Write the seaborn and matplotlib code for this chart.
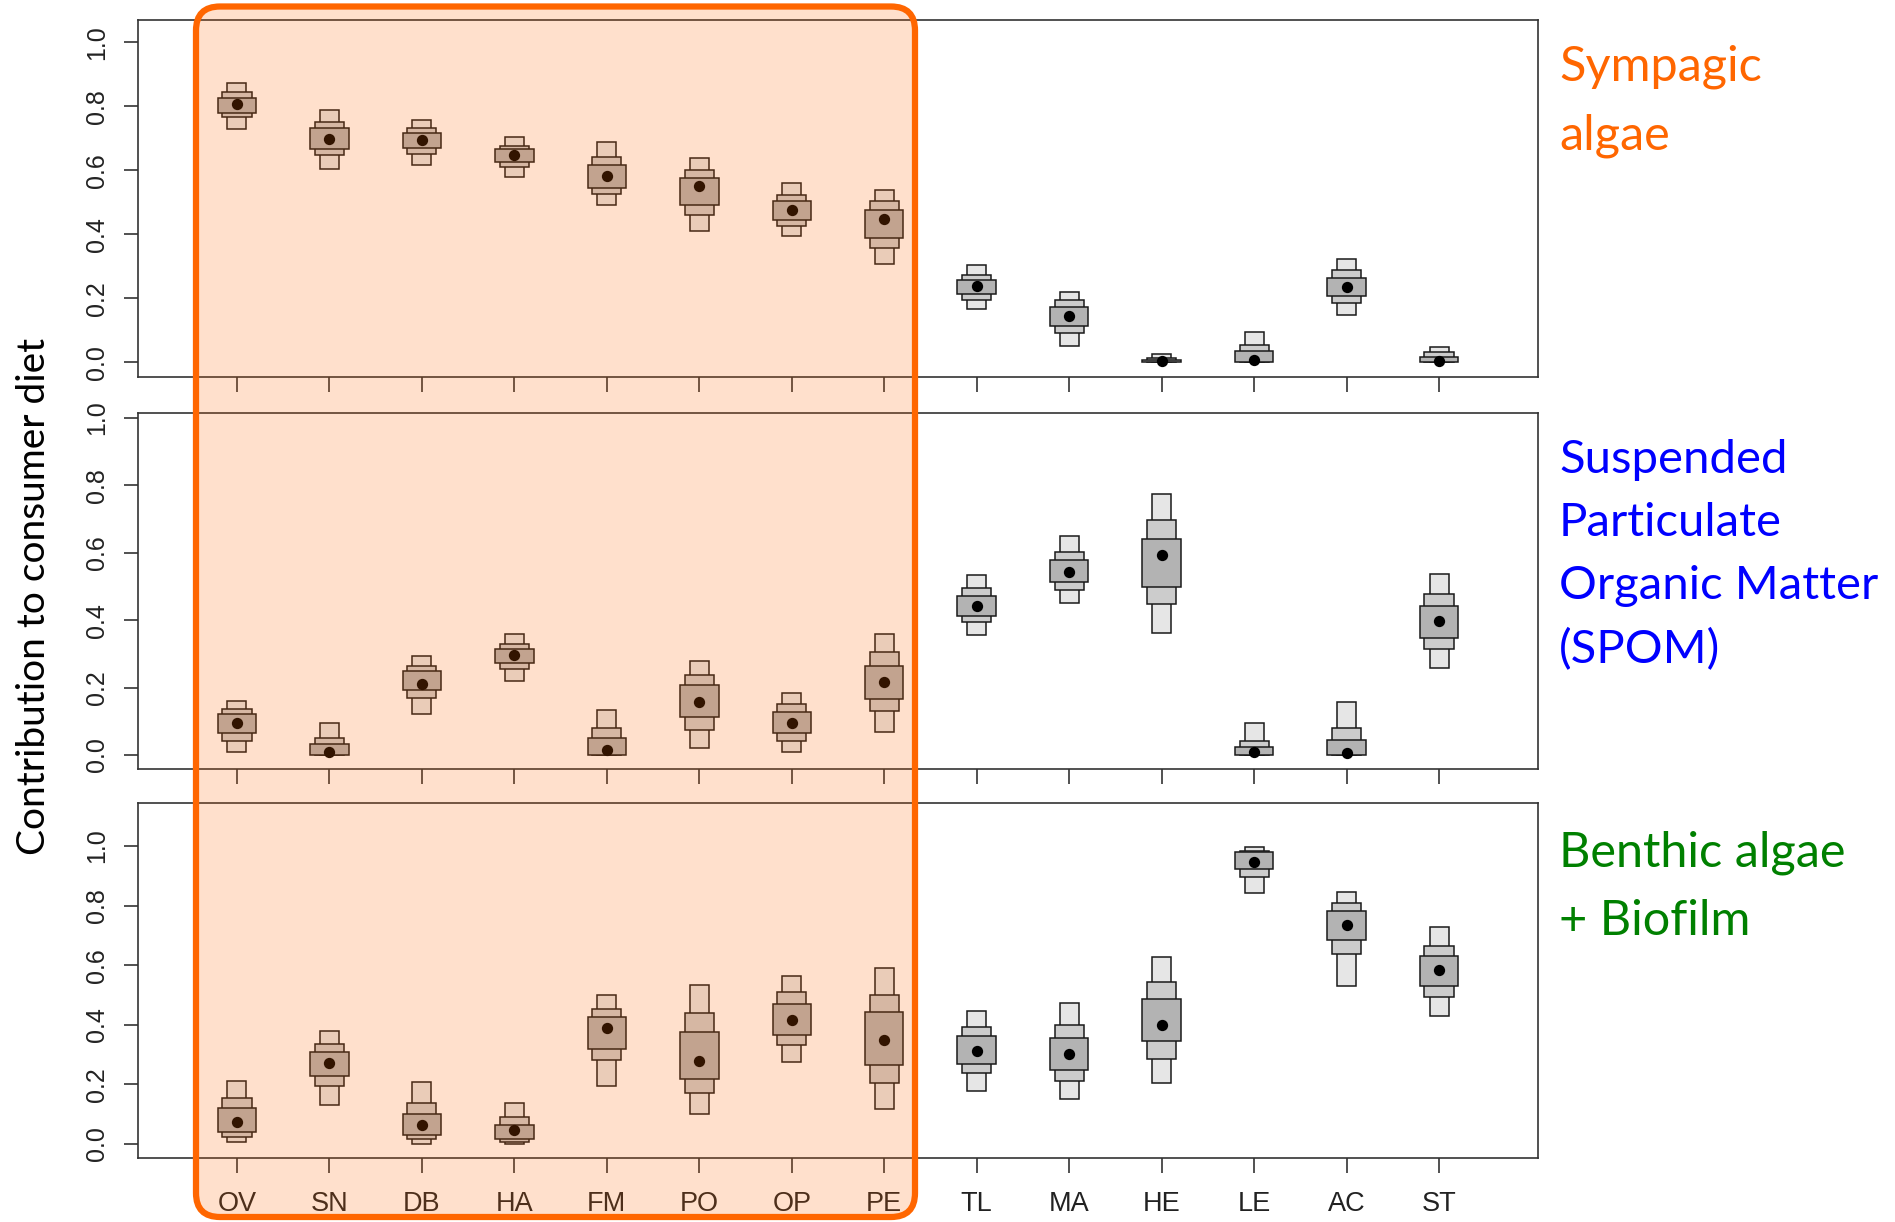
import matplotlib
matplotlib.use("Agg")
import matplotlib.pyplot as plt
import seaborn as sns
import numpy as np
import pandas as pd
from matplotlib.patches import FancyBboxPatch

# 消費者カテゴリ
cats = ["OV", "SN", "DB", "HA", "FM", "PO", "OP", "PE", "TL", "MA", "HE", "LE", "AC", "ST"]

# Sympagic algae
sym_med = [0.806, 0.697, 0.696, 0.647, 0.582, 0.552, 0.477, 0.448, 0.239, 0.145, 0.003, 0.008, 0.234, 0.004]
sym_lo50 = [0.780, 0.666, 0.671, 0.625, 0.546, 0.492, 0.445, 0.388, 0.213, 0.113, 0.000, 0.000, 0.206, 0.000]
sym_hi50 = [0.826, 0.732, 0.717, 0.666, 0.618, 0.577, 0.503, 0.477, 0.257, 0.174, 0.007, 0.035, 0.265, 0.017]
sym_lo75 = [0.766, 0.647, 0.652, 0.611, 0.527, 0.460, 0.426, 0.356, 0.194, 0.093, 0.000, 0.000, 0.186, 0.000]
sym_hi75 = [0.846, 0.751, 0.731, 0.677, 0.642, 0.601, 0.523, 0.503, 0.273, 0.194, 0.012, 0.054, 0.289, 0.031]
sym_lo95 = [0.730, 0.605, 0.616, 0.580, 0.491, 0.411, 0.396, 0.307, 0.167, 0.052, 0.000, 0.000, 0.147, 0.000]
sym_hi95 = [0.872, 0.788, 0.758, 0.703, 0.688, 0.638, 0.562, 0.538, 0.303, 0.219, 0.026, 0.095, 0.324, 0.049]

# SPOM
spm_med = [0.094, 0.010, 0.212, 0.296, 0.015, 0.156, 0.094, 0.217, 0.443, 0.542, 0.594, 0.010, 0.007, 0.397]
spm_lo50 = [0.065, 0.000, 0.193, 0.273, 0.000, 0.113, 0.064, 0.165, 0.414, 0.513, 0.500, 0.000, 0.000, 0.348]
spm_hi50 = [0.123, 0.034, 0.250, 0.316, 0.051, 0.207, 0.127, 0.263, 0.471, 0.580, 0.641, 0.025, 0.044, 0.443]
spm_lo75 = [0.041, 0.000, 0.169, 0.254, 0.000, 0.074, 0.041, 0.131, 0.396, 0.489, 0.447, 0.000, 0.000, 0.316]
spm_hi75 = [0.137, 0.051, 0.263, 0.329, 0.079, 0.236, 0.151, 0.307, 0.496, 0.603, 0.698, 0.043, 0.079, 0.477]
spm_lo95 = [0.009, 0.000, 0.122, 0.220, 0.000, 0.022, 0.008, 0.069, 0.356, 0.452, 0.362, 0.000, 0.000, 0.259]
spm_hi95 = [0.160, 0.095, 0.293, 0.358, 0.133, 0.278, 0.184, 0.359, 0.534, 0.651, 0.774, 0.095, 0.156, 0.538]

# Benthic algae + Biofilm
ben_med = [0.074, 0.271, 0.064, 0.047, 0.388, 0.280, 0.415, 0.350, 0.313, 0.302, 0.398, 0.947, 0.734, 0.585]
ben_lo50 = [0.041, 0.227, 0.030, 0.017, 0.318, 0.217, 0.365, 0.264, 0.270, 0.248, 0.346, 0.924, 0.685, 0.531]
ben_hi50 = [0.121, 0.308, 0.102, 0.065, 0.426, 0.377, 0.468, 0.442, 0.361, 0.356, 0.488, 0.978, 0.782, 0.632]
ben_lo75 = [0.025, 0.196, 0.018, 0.008, 0.281, 0.170, 0.333, 0.206, 0.238, 0.211, 0.286, 0.897, 0.638, 0.493]
ben_hi75 = [0.153, 0.335, 0.138, 0.090, 0.452, 0.441, 0.510, 0.499, 0.394, 0.398, 0.543, 0.984, 0.808, 0.664]
ben_lo95 = [0.008, 0.131, 0.000, 0.000, 0.195, 0.101, 0.275, 0.116, 0.179, 0.152, 0.206, 0.843, 0.530, 0.430]
ben_hi95 = [0.213, 0.378, 0.208, 0.139, 0.500, 0.532, 0.564, 0.590, 0.447, 0.474, 0.629, 0.996, 0.846, 0.729]

sns.set_theme(style="ticks")
plt.rcParams["font.family"] = ["Liberation Sans", "DejaVu Sans"]


# 信用区間の箱（95%, 75%, 50%）と中央値を描く
def draw_panel(ax, med, lo50, hi50, lo75, hi75, lo95, hi95, ylim, show_labels):
    x = np.arange(1, len(cats) + 1)
    levels = [(lo95, hi95, 0.103, "#e6e6e6"),
              (lo75, hi75, 0.158, "#cccccc"),
              (lo50, hi50, 0.208, "#b3b3b3")]
    for lo, hi, hw, col in levels:
        lo = np.array(lo)
        hi = np.array(hi)
        ax.bar(x, hi - lo, bottom=lo, width=2 * hw, color=col,
               edgecolor="#1a1a1a", linewidth=1.1, zorder=2)
    df = pd.DataFrame({"x": x, "med": med})
    sns.scatterplot(data=df, x="x", y="med", ax=ax, color="black", s=66,
                    linewidth=0, zorder=3, legend=False)
    ax.set_xlim(-0.07, 15.07)
    ax.set_ylim(*ylim)
    ax.set_xticks(x)
    ax.set_yticks([0, 0.2, 0.4, 0.6, 0.8, 1.0])
    ax.set_yticklabels(["0.0", "0.2", "0.4", "0.6", "0.8", "1.0"], rotation=90,
                       va="center", color="#222222")
    if show_labels:
        ax.set_xticklabels(cats, color="#222222")
    else:
        ax.set_xticklabels([])
    ax.set_xlabel("")
    ax.set_ylabel("")
    ax.tick_params(axis="x", length=11, width=1.1, color="#222222", pad=13, labelsize=19.5)
    ax.tick_params(axis="y", length=10, width=1.1, color="#222222", pad=11, labelsize=18)
    for sp in ax.spines.values():
        sp.set_visible(True)
        sp.set_color("#333333")
        sp.set_linewidth(1.2)
    ax.set_facecolor("white")


fig = plt.figure(figsize=(18.95, 12.22), dpi=100)
W, H = 1895, 1222
left = 138 / W
width = (1538 - 138) / W
panels = [
    (20, 377, (sym_med, sym_lo50, sym_hi50, sym_lo75, sym_hi75, sym_lo95, sym_hi95), (-0.046, 1.07)),
    (413, 769, (spm_med, spm_lo50, spm_hi50, spm_lo75, spm_hi75, spm_lo95, spm_hi95), (-0.0415, 1.015)),
    (803, 1158, (ben_med, ben_lo50, ben_hi50, ben_lo75, ben_hi75, ben_lo95, ben_hi95), (-0.047, 1.144)),
]
for i, (top, bot, vals, ylim) in enumerate(panels):
    ax = fig.add_axes([left, 1 - bot / H, width, (bot - top) / H])
    draw_panel(ax, *vals, ylim=ylim, show_labels=(i == 2))

# 縦軸ラベル
fig.text(34 / W, 1 - 596 / H, "Contribution to consumer diet", rotation=90,
         ha="center", va="center", fontsize=28, family=["Lato", "DejaVu Sans"], color="black")

# 右側の餌資源ラベル
src_font = ["Lato", "DejaVu Sans"]
fig.text(1559 / W, 1 - 101 / H, "Sympagic\nalgae", ha="left", va="center",
         fontsize=35, color="#ff6600", family=src_font, linespacing=1.68)
fig.text(1559 / W, 1 - 555 / H, "Suspended\nParticulate\nOrganic Matter\n(SPOM)", ha="left", va="center",
         fontsize=34, color="#0000ff", family=src_font, linespacing=1.62)
fig.text(1559 / W, 1 - 887 / H, "Benthic algae\n+ Biofilm", ha="left", va="center",
         fontsize=35, color="#008000", family=src_font, linespacing=1.68)

# 強調枠（半透明オレンジ）
ov = fig.add_axes([0, 0, 1, 1])
ov.set_xlim(0, W)
ov.set_ylim(H, 0)
ov.axis("off")
box = FancyBboxPatch((196, 6.5), 915 - 196, 1217 - 6.5,
                     boxstyle="round,pad=0,rounding_size=24",
                     facecolor=(1.0, 0.4, 0.0, 0.2), edgecolor="#ff6600", linewidth=4.5)
ov.add_patch(box)

fig.savefig("out.png", dpi=100)
